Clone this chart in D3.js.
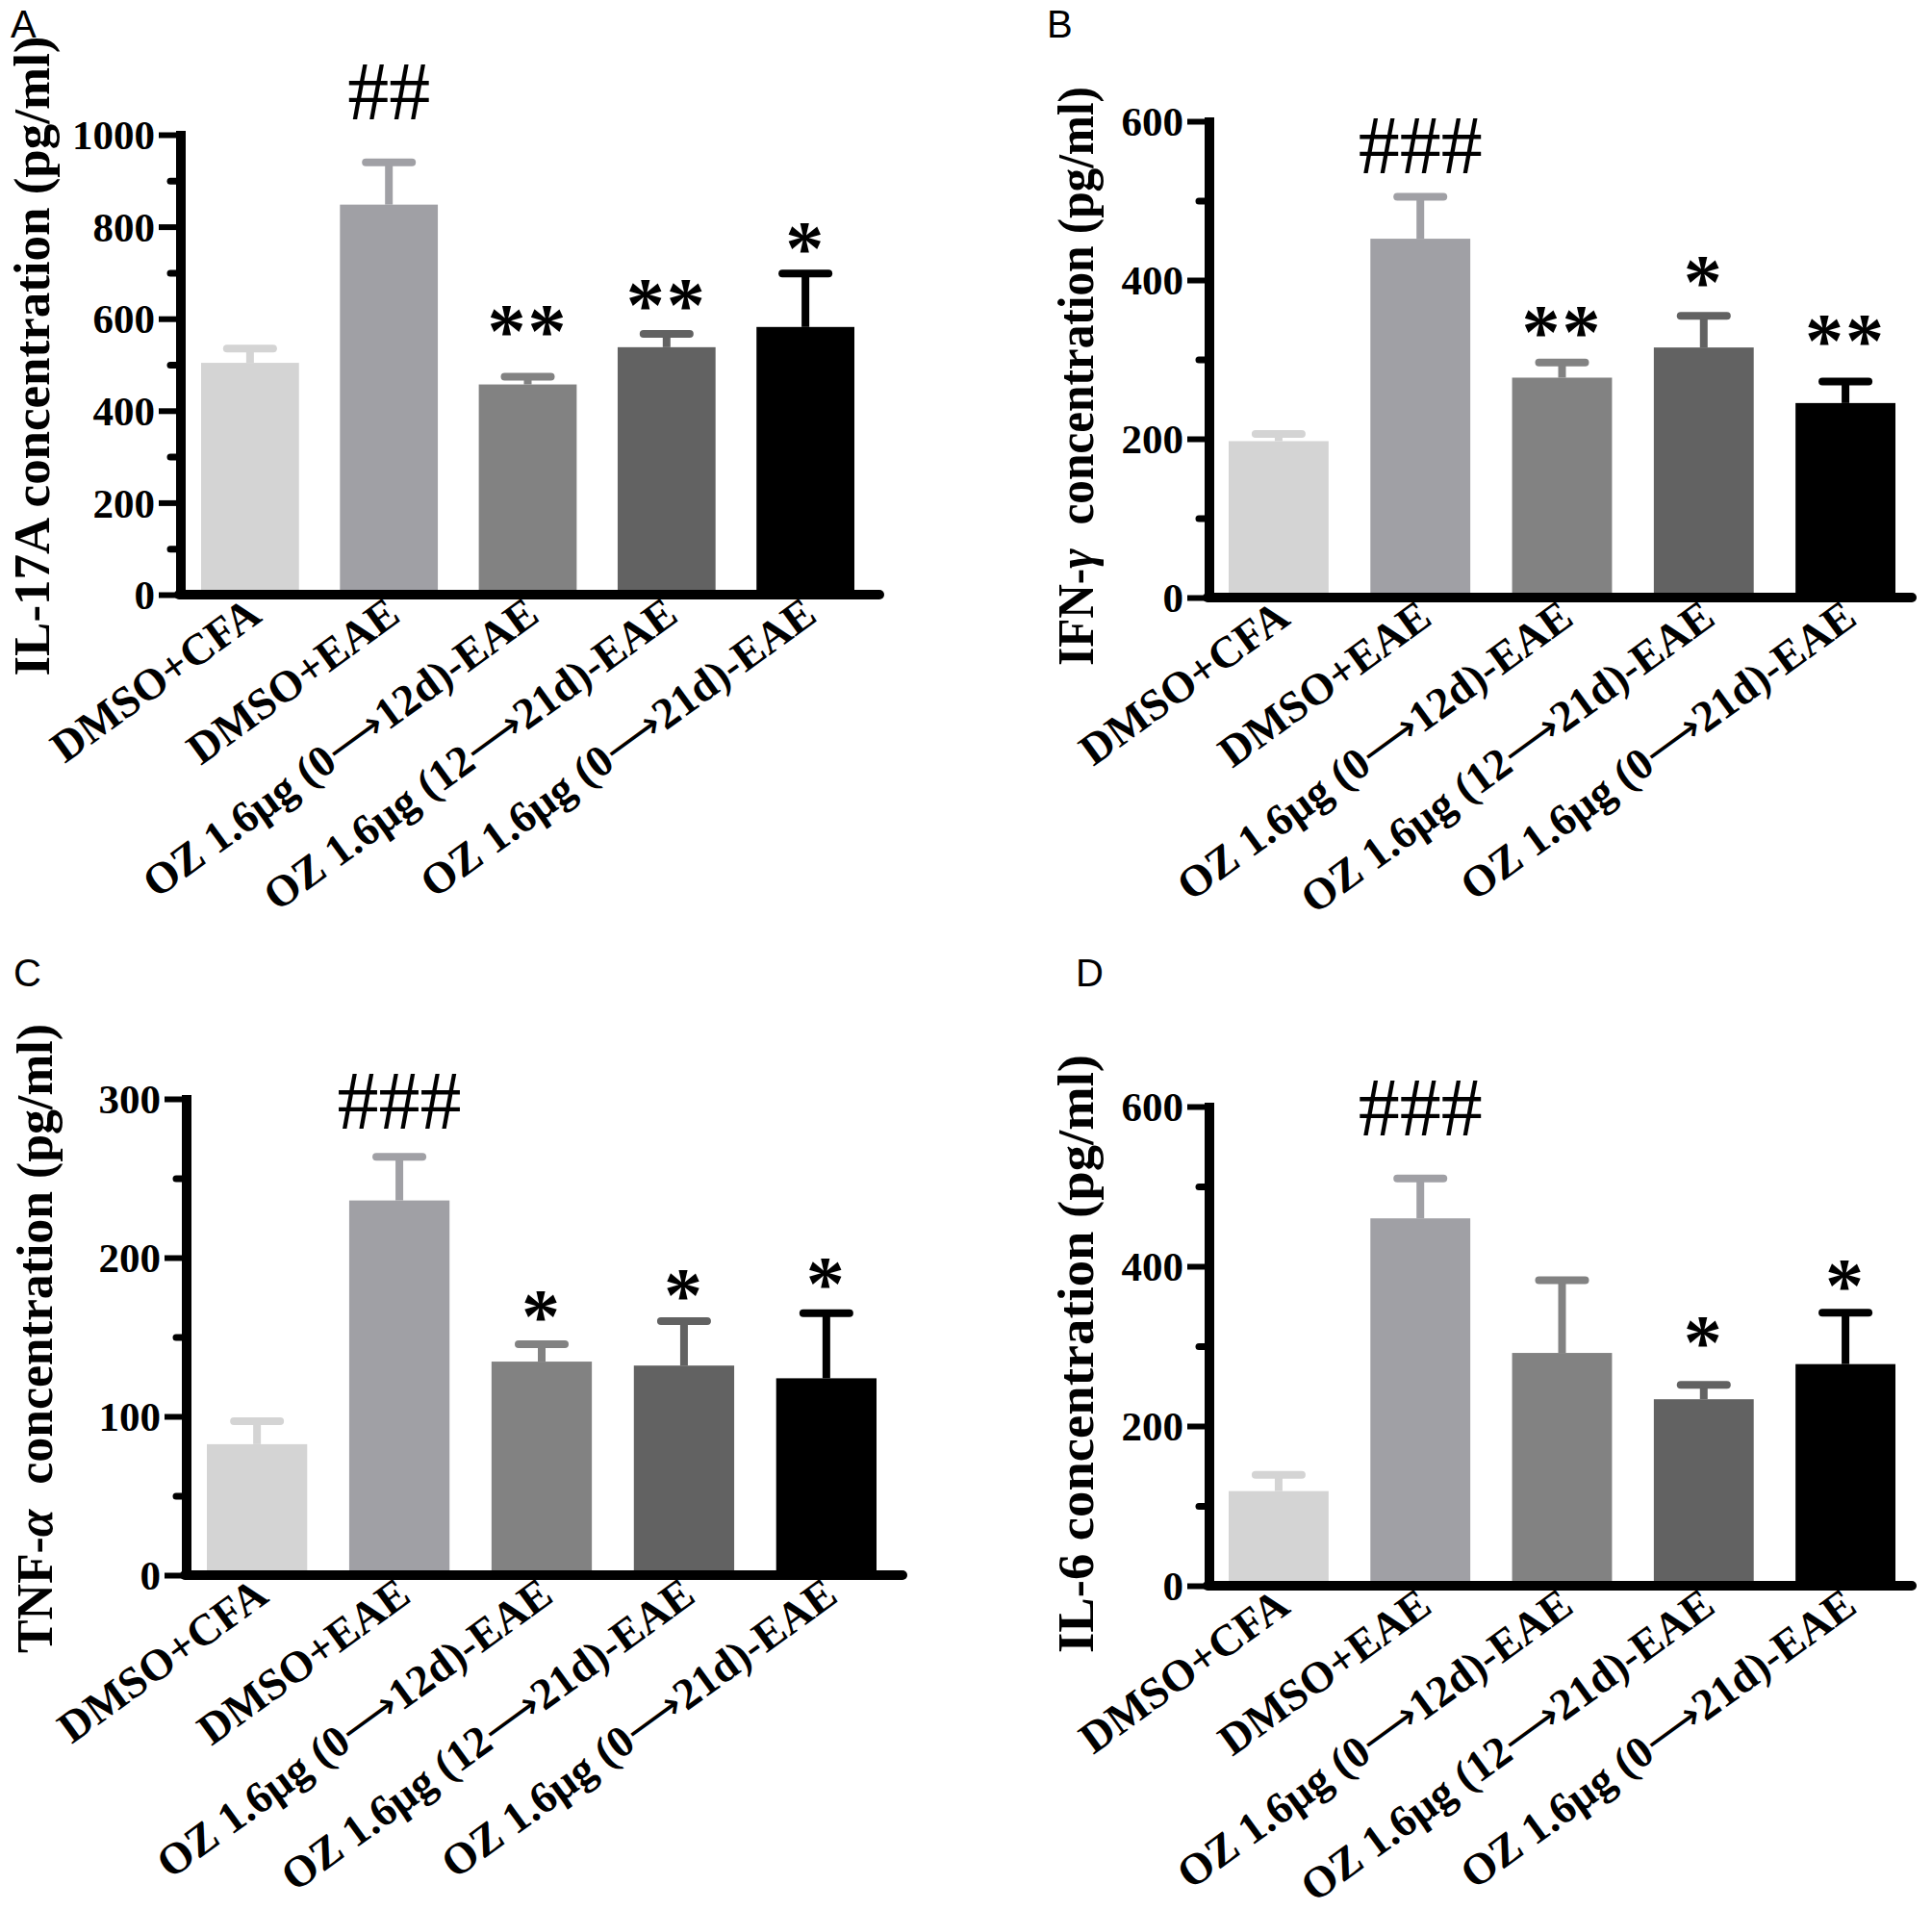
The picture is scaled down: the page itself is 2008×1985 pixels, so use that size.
<!DOCTYPE html>
<html><head><meta charset="utf-8">
<script src="https://cdn.jsdelivr.net/npm/d3@7"></script>
<style>body{margin:0;background:#fff;} svg{display:block;}</style>
</head><body>
<svg id="chart" width="2008" height="1985"></svg>
<script>
// ---------- data ----------
const categories = ["DMSO+CFA", "DMSO+EAE", "OZ 1.6μg (0→12d)-EAE", "OZ 1.6μg (12→21d)-EAE", "OZ 1.6μg (0→21d)-EAE"];

const il17aMean  = [504, 848, 457, 538, 582];
const il17aSem   = [31, 92, 17, 29, 116];
const il17aMarks = ["", "##", "**", "**", "*"];
const il17aMarkAt = [null, 1095, 600, 656, 780];
const il17aTicks = [0, 200, 400, 600, 800, 1000];
const il17aMinor = [100, 300, 500, 700, 900];

const ifngMean  = [197, 452, 277, 315, 245];
const ifngSem   = [9, 53, 19, 40, 27];
const ifngMarks = ["", "###", "**", "*", "**"];
const ifngMarkAt = [null, 570, 350, 413, 339];
const ifngTicks = [0, 200, 400, 600];
const ifngMinor = [100, 300, 500];

const tnfaMean  = [82.5, 236, 134.5, 132, 124];
const tnfaSem   = [14.5, 27.5, 11, 28, 41];
const tnfaMarks = ["", "###", "*", "*", "*"];
const tnfaMarkAt = [null, 299, 171, 184.5, 191.5];
const tnfaTicks = [0, 100, 200, 300];
const tnfaMinor = [50, 150, 250];

const il6Mean  = [118.5, 460, 291.5, 233.5, 277.5];
const il6Sem   = [20.5, 50, 91, 18, 64.5];
const il6Marks = ["", "###", "", "*", "*"];
const il6MarkAt = [null, 599, null, 320, 391];
const il6Ticks = [0, 200, 400, 600];
const il6Minor = [100, 300, 500];

// ---------- style ----------
const barColors = ["#d4d4d4", "#a0a0a5", "#828282", "#626262", "#000000"];
const serif = "'Liberation Serif','Times New Roman',serif";
const sans = "'Liberation Sans',Arial,sans-serif";

const panels = [
  {letter:"A", lx:11, ly:39, title:["IL-17A concentration (pg/ml)"], tx:51, ty:370, tlen:665,
   mean:il17aMean, sem:il17aSem, marks:il17aMarks, markAt:il17aMarkAt, ticks:il17aTicks, minor:il17aMinor,
   max:1000, axisX:188, y0:618, yTop:140, barsL:209, barsR:888, xEnd:914},
  {letter:"B", lx:1088, ly:39, title:["IFN-", "γ", "  concentration (pg/ml)"], tx:1136, ty:391, tlen:602,
   mean:ifngMean, sem:ifngSem, marks:ifngMarks, markAt:ifngMarkAt, ticks:ifngTicks, minor:ifngMinor,
   max:600, axisX:1257, y0:621, yTop:126, barsL:1277, barsR:1970, xEnd:1987},
  {letter:"C", lx:14, ly:1025, title:["TNF-", "α", "  concentration (pg/ml)"], tx:54, ty:1391, tlen:654,
   mean:tnfaMean, sem:tnfaSem, marks:tnfaMarks, markAt:tnfaMarkAt, ticks:tnfaTicks, minor:tnfaMinor,
   max:300, axisX:194, y0:1637, yTop:1142, barsL:215, barsR:911, xEnd:938},
  {letter:"D", lx:1118, ly:1025, title:["IL-6 concentration (pg/ml)"], tx:1136, ty:1407, tlen:622,
   mean:il6Mean, sem:il6Sem, marks:il6Marks, markAt:il6MarkAt, ticks:il6Ticks, minor:il6Minor,
   max:600, axisX:1257, y0:1648, yTop:1150, barsL:1277, barsR:1970, xEnd:1987}
];

const svg = d3.select("#chart");
svg.append("rect").attr("width", 2008).attr("height", 1985).attr("fill", "#fff");

function drawPanel(p) {
  const g = svg.append("g");
  const y = d3.scaleLinear().domain([0, p.max]).range([p.y0, p.yTop]);
  const x = d3.scaleBand().domain(categories).range([p.barsL, p.barsR]).paddingInner(0.295).paddingOuter(0);
  const bw = x.bandwidth();
  const cx = i => x(categories[i]) + bw / 2;

  // error bars (upper only)
  g.selectAll("line.stem").data(p.mean).join("line")
    .attr("x1", (d, i) => cx(i)).attr("x2", (d, i) => cx(i))
    .attr("y1", d => y(d)).attr("y2", (d, i) => y(d + p.sem[i]))
    .attr("stroke", (d, i) => barColors[i]).attr("stroke-width", 8);
  g.selectAll("line.cap").data(p.mean).join("line")
    .attr("x1", (d, i) => cx(i) - 24).attr("x2", (d, i) => cx(i) + 24)
    .attr("y1", (d, i) => y(d + p.sem[i])).attr("y2", (d, i) => y(d + p.sem[i]))
    .attr("stroke", (d, i) => barColors[i]).attr("stroke-width", 8).attr("stroke-linecap", "round");

  // bars
  g.selectAll("rect.bar").data(p.mean).join("rect")
    .attr("x", (d, i) => x(categories[i])).attr("y", d => y(d))
    .attr("width", bw).attr("height", d => p.y0 - y(d))
    .attr("fill", (d, i) => barColors[i]);

  // minor ticks
  const gm = g.append("g").attr("transform", `translate(${p.axisX},0)`)
    .call(d3.axisLeft(y).tickValues(p.minor).tickSize(11).tickSizeOuter(0).tickFormat(() => ""));
  gm.select(".domain").remove();
  gm.selectAll(".tick text").remove();
  gm.selectAll(".tick line").attr("stroke", "#000").attr("stroke-width", 7).attr("stroke-linecap", "round");

  // major ticks
  const ga = g.append("g").attr("transform", `translate(${p.axisX},0)`)
    .call(d3.axisLeft(y).tickValues(p.ticks).tickSize(23).tickSizeOuter(0).tickPadding(4).tickFormat(d3.format("d")));
  ga.select(".domain").remove();
  ga.selectAll(".tick line").attr("stroke", "#000").attr("stroke-width", 6);
  ga.selectAll(".tick text").attr("font-family", serif).attr("font-weight", "bold")
    .attr("font-size", 43).attr("fill", "#000").attr("dy", "0.34em");

  // axis lines
  g.append("line").attr("x1", p.axisX).attr("x2", p.axisX).attr("y1", p.yTop - 4).attr("y2", p.y0)
    .attr("stroke", "#000").attr("stroke-width", 10);
  g.append("line").attr("x1", p.axisX - 2).attr("x2", p.xEnd).attr("y1", p.y0).attr("y2", p.y0)
    .attr("stroke", "#000").attr("stroke-width", 10).attr("stroke-linecap", "round");

  // x labels (rotated)
  const gx = g.append("g").attr("transform", `translate(0,${p.y0})`)
    .call(d3.axisBottom(x).tickSize(0).tickPadding(0));
  gx.select(".domain").remove();
  gx.selectAll(".tick text").each(function(d) {
    const t = d3.select(this);
    t.text(null).attr("y", 0).attr("dy", 0).attr("x", 0)
      .attr("text-anchor", "end").attr("transform", "translate(14,26) rotate(-36)")
      .attr("font-family", serif).attr("font-weight", "bold").attr("font-size", 46).attr("fill", "#000");
    const parts = d.split("→");
    parts.forEach((s, k) => {
      if (k > 0) t.append("tspan").attr("font-family", "'DejaVu Sans',sans-serif")
        .attr("font-size", 44).attr("font-weight", "normal").text("⟶");
      t.append("tspan").text(s);
    });
  });

  // significance marks
  p.marks.forEach((m, i) => {
    if (!m) return;
    const isHash = m[0] === "#";
    const fs = isHash ? 86 : 80;
    g.append("text").attr("x", cx(i)).attr("y", y(p.markAt[i]) + (isHash ? 0.34 : 0.5) * fs)
      .attr("text-anchor", "middle").attr("font-family", serif).attr("font-size", fs)
      .attr("font-weight", isHash ? "normal" : "bold")
      .attr("letter-spacing", isHash ? 0 : 2).attr("fill", "#000").text(m);
  });

  // y title
  const t = g.append("text").attr("transform", `translate(${p.tx},${p.ty}) rotate(-90)`)
    .attr("text-anchor", "middle").attr("font-family", serif).attr("font-weight", "bold")
    .attr("font-size", 53).attr("fill", "#000").style("white-space", "pre")
    .attr("textLength", p.tlen).attr("lengthAdjust", "spacingAndGlyphs");
  p.title.forEach((s, k) => {
    const ts = t.append("tspan").text(s);
    if (p.title.length === 3 && k === 1) ts.attr("font-style", "italic");
  });

  // panel letter
  svg.append("text").attr("x", p.lx).attr("y", p.ly).attr("font-family", sans)
    .attr("font-size", 40).attr("fill", "#000").text(p.letter);
}

panels.forEach(drawPanel);
</script>
</body></html>
